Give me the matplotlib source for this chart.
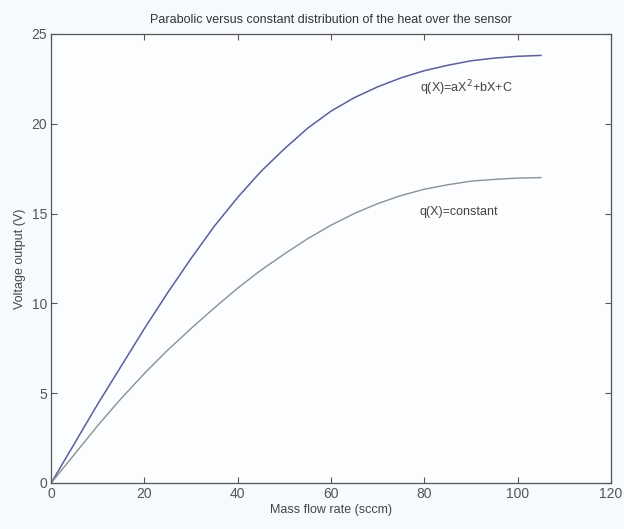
import matplotlib.pyplot as plt

flow = [0, 5, 10, 15, 20, 25, 30, 35, 40, 45, 50, 55, 60, 65, 70, 75, 80, 85, 90, 95, 100, 105]
v_parabolic = [0, 2.2, 4.4, 6.5, 8.6, 10.6, 12.5, 14.3, 15.9, 17.35, 18.6, 19.75, 20.7, 21.45,
               22.05, 22.55, 22.95, 23.25, 23.5, 23.65, 23.75, 23.8]
v_constant = [0, 1.6, 3.2, 4.7, 6.1, 7.4, 8.6, 9.75, 10.85, 11.85, 12.75, 13.6, 14.35, 15.0,
              15.55, 16.0, 16.35, 16.6, 16.8, 16.9, 16.97, 17.0]

xticks = [0, 20, 40, 60, 80, 100, 120]
yticks = [0, 5, 10, 15, 20, 25]

plt.rcParams['font.family'] = ['Liberation Sans', 'DejaVu Sans']

fig = plt.figure(figsize=(6.24, 5.29), dpi=100, facecolor='#f7fafc')
ax = fig.add_axes([0.082, 0.087, 0.897, 0.849])
ax.set_facecolor('#fbfdfe')

ax.plot(flow, v_parabolic, color='#5b5f9e', lw=1.1)
ax.plot(flow, v_constant, color='#8c8f94', lw=1.0)

ax.text(79, 22.0, 'q(X)=aX$^2$+bX+C', fontsize=9, color='#444444', va='center')
ax.text(79, 15.1, 'q(X)=constant', fontsize=9, color='#444444', va='center')

ax.set_xlim(0, 120)
ax.set_ylim(0, 25)
ax.set_xticks(xticks)
ax.set_yticks(yticks)
ax.tick_params(direction='in', length=4, top=True, right=True,
               labelsize=10, colors='#555555', pad=3)
for s in ax.spines.values():
    s.set_color('#555555')
    s.set_linewidth(0.9)

ax.set_title('Parabolic versus constant distribution of the heat over the sensor',
             fontsize=9, color='#333333', pad=8)
ax.set_xlabel('Mass flow rate (sccm)', fontsize=9, color='#444444', labelpad=2)
ax.set_ylabel('Voltage output (V)', fontsize=9, color='#444444', labelpad=4)

fig.savefig('out.png', dpi=100, facecolor=fig.get_facecolor())
